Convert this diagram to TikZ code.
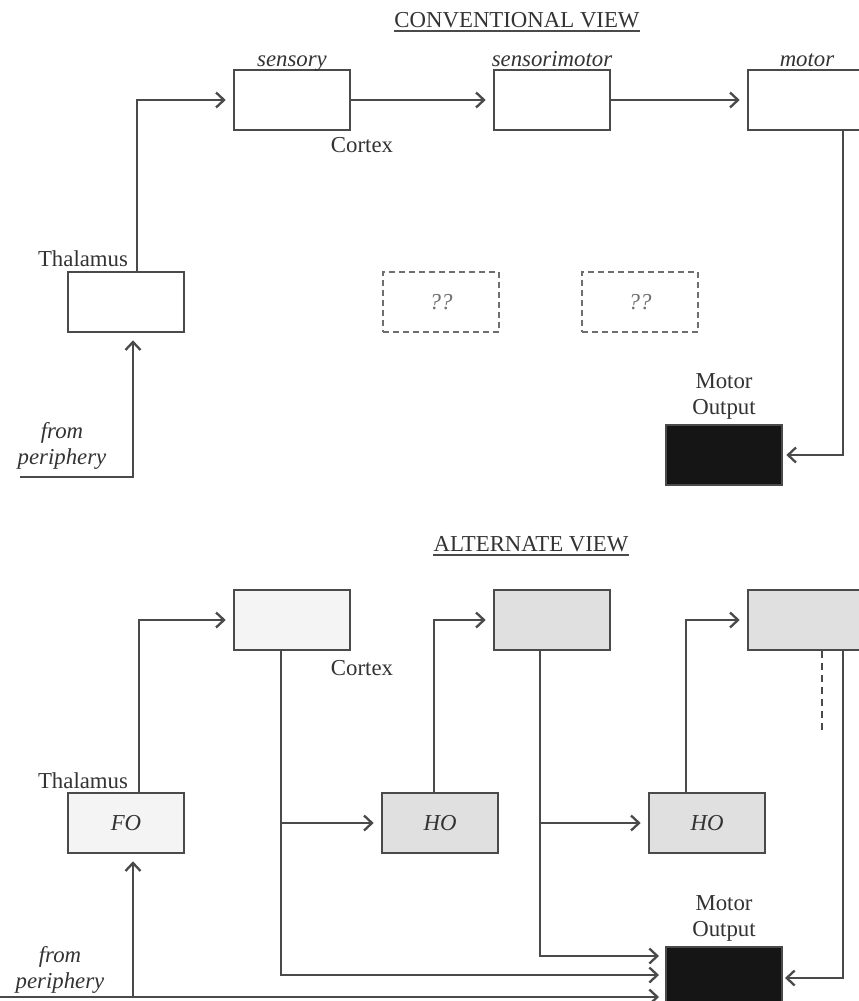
\documentclass[tikz,border=0pt]{standalone}
\usepackage{fontspec}
\setmainfont{Liberation Serif}
\usetikzlibrary{arrows.meta}
\definecolor{ln}{HTML}{4A4A4A}
\definecolor{tx}{HTML}{333333}
\definecolor{lite}{HTML}{F4F4F4}
\definecolor{mid}{HTML}{E0E0E0}
\definecolor{blk}{HTML}{151515}
\begin{document}
\begin{tikzpicture}[x=1pt,y=-1pt,
  every node/.style={text=tx, font=\fontsize{22.8}{26}\selectfont},
  it/.style={font=\fontsize{22.8}{26}\selectfont\itshape},
  box/.style={draw=ln, line width=2.6pt, minimum width=116pt, minimum height=60pt, inner sep=0pt},
  dbox/.style={box, draw=ln!80, dash pattern=on 6pt off 4pt, line width=2.2pt, text=tx!70, it},
  blackbox/.style={box, fill=blk},
  arr/.style={draw=ln, line width=2.3pt, -{Straight Barb[length=8pt,width=15pt]}, shorten >=7pt},
  lnk/.style={draw=ln, line width=2.3pt},
  ul/.style={draw=ln, line width=1.8pt},
  ttl/.style={inner sep=0pt}]
\clip (0,0) rectangle (859,1001);
\fill[white] (0,0) rectangle (859,1001);

% ---------- CONVENTIONAL VIEW ----------
\node[ttl] (vw1) at (517,20) {CONVENTIONAL VIEW};
\draw[ul] ([yshift=-3.5pt]vw1.base west) -- ([yshift=-3.5pt]vw1.base east);

\node[box] (sens) at (292,100) {};
\node[box] (smot) at (552,100) {};
\node[box] (mot) at (806,100) {};
\node[box] (thal) at (126,302) {};
\node[dbox] (q1) at (441,302) {??};
\node[dbox] (q2) at (640,302) {??};
\node[blackbox] (mo) at (724,455) {};

\node[it, anchor=base] (lsens) at (292,66) {sensory};
\node[it, anchor=base] (lsmot) at (552,66) {sensorimotor};
\node[it, anchor=base] (lmot) at (807,66) {motor};
\node (lcortex) at (362,145) {Cortex};
\node (lthal) at (83,259) {Thalamus};
\node[align=center] (lmo) at (724,396) {Motor\\Output};
\node[it, align=center] (lfrom) at (62,446) {from\\periphery};

\coordinate (t1) at ([xshift=11pt]thal.north);
\draw[arr] (t1) |- (sens.west);
\draw[arr] (sens.east) -- (smot.west);
\draw[arr] (smot.east) -- (mot.west);
\coordinate (m1) at ([xshift=37pt]mot.south);
\draw[arr, shorten >=3pt] (m1) |- (mo.east);
\coordinate (p1) at (20,477);
\coordinate (t2) at ([xshift=7pt]thal.south);
\draw[arr] (p1) -| (t2);

% ---------- ALTERNATE VIEW ----------
\node[ttl] (vw2) at (531,544) {ALTERNATE VIEW};
\draw[ul] ([yshift=-3.5pt]vw2.base west) -- ([yshift=-3.5pt]vw2.base east);

\node[box, fill=lite] (c1) at (292,620) {};
\node[box, fill=mid] (c2) at (552,620) {};
\node[box, fill=mid] (c3) at (806,620) {};
\node[box, fill=lite, it] (FO) at (126,823) {FO};
\node[box, fill=mid, it] (HO1) at (440,823) {HO};
\node[box, fill=mid, it] (HO2) at (707,823) {HO};
\node[blackbox] (mo2) at (724,977) {};

\node (lcortex2) at (362,668) {Cortex};
\node (lthal2) at (83,781) {Thalamus};
\node[align=center] (lmo2) at (724,918) {Motor\\Output};
\node[it, align=center] (lfrom2) at (60,970) {from\\periphery};

\coordinate (f1) at ([xshift=13pt]FO.north);
\draw[arr] (f1) |- (c1.west);
\coordinate (h1) at ([xshift=-6pt]HO1.north);
\draw[arr] (h1) |- (c2.west);
\coordinate (h2) at ([xshift=-21pt]HO2.north);
\draw[arr] (h2) |- (c3.west);

\coordinate (c1d) at ([xshift=-11pt]c1.south);
\coordinate (in2) at (666,975);
\draw[arr] (c1d) |- (in2);
\draw[arr] (c1d |- HO1.west) -- (HO1.west);

\coordinate (c2d) at ([xshift=-12pt]c2.south);
\coordinate (in1) at (666,956);
\draw[arr] (c2d) |- (in1);
\draw[arr] (c2d |- HO2.west) -- (HO2.west);

\draw[lnk, dash pattern=on 7pt off 5pt] ([xshift=16pt]c3.south) -- ++(0,82);
\coordinate (c3d) at ([xshift=37pt]c3.south);
\coordinate (in4) at (782,978);
\draw[arr, shorten >=3pt] (c3d) |- (in4);

\coordinate (p2) at (0,997);
\coordinate (in3) at (666,997);
\draw[arr] (p2) -- (in3);
\coordinate (f2) at ([xshift=7pt]FO.south);
\draw[arr] (f2 |- p2) -- (f2);
\end{tikzpicture}
\end{document}
